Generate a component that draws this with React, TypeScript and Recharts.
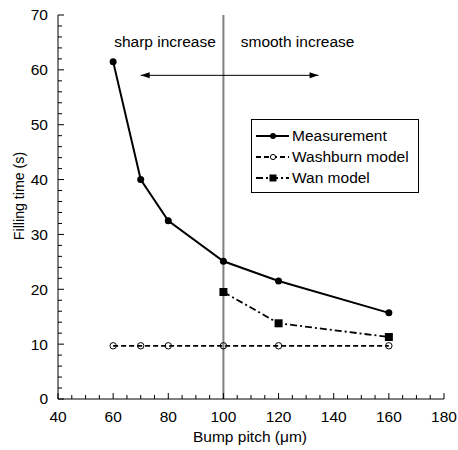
import React from 'react';
import {
  LineChart,
  Line,
  XAxis,
  YAxis,
  ReferenceLine,
  ReferenceDot,
  Legend,
} from 'recharts';

// Bump pitch (um) vs filling time (s)
const measurementPitch = [60, 70, 80, 100, 120, 160];
const measurementTime = [61.5, 40, 32.5, 25.1, 21.5, 15.7];
const washburnPitch = [60, 70, 80, 100, 120, 160];
const washburnTime = [9.7, 9.7, 9.7, 9.7, 9.7, 9.7];
const wanPitch = [100, 120, 160];
const wanTime = [19.5, 13.8, 11.3];

const xMajor = [40, 60, 80, 100, 120, 140, 160, 180];
const yMajor = [0, 10, 20, 30, 40, 50, 60, 70];
const xTicks = Array.from({ length: 29 }, (_, i) => 40 + i * 5);
const yTicks = Array.from({ length: 36 }, (_, i) => i * 2);

const annotations = [
  { x: 78.8, y: 65.1, text: 'sharp increase' },
  { x: 126.9, y: 65.1, text: 'smooth increase' },
];
const arrowFrom = { x: 70, y: 59 };
const arrowTo = { x: 134.5, y: 59 };
const dividerPitch = 100;

const FONT = '"Liberation Sans", Arial, sans-serif';

const toPoints = (xs: number[], ys: number[]) => xs.map((x, i) => ({ x, y: ys[i] }));

const isMajorX = (v: number) => xMajor.includes(v);
const isMajorY = (v: number) => yMajor.includes(v);

const BottomTick = (props: any) => {
  const { x, y, payload } = props;
  const major = isMajorX(payload.value);
  return (
    <g>
      <line x1={x} x2={x} y1={y} y2={y - (major ? 6 : 4)} stroke="#000" />
      {major && (
        <text x={x} y={y + 23} textAnchor="middle" fontSize={15.5} fontFamily={FONT} fill="#000">
          {payload.value}
        </text>
      )}
    </g>
  );
};

const TopTick = (props: any) => {
  const { x, y, payload } = props;
  const major = isMajorX(payload.value);
  return <line x1={x} x2={x} y1={y} y2={y + (major ? 6 : 4)} stroke="#000" />;
};

const LeftTick = (props: any) => {
  const { x, y, payload } = props;
  const major = isMajorY(payload.value);
  return (
    <g>
      <line x1={x} x2={x + (major ? 6 : 4)} y1={y} y2={y} stroke="#000" />
      {major && (
        <text x={x - 10} y={y} dy="0.35em" textAnchor="end" fontSize={15.5} fontFamily={FONT} fill="#000">
          {payload.value}
        </text>
      )}
    </g>
  );
};

const RightTick = (props: any) => {
  const { x, y, payload } = props;
  const major = isMajorY(payload.value);
  return <line x1={x} x2={x - (major ? 6 : 4)} y1={y} y2={y} stroke="#000" />;
};

const SolidDot = (p: any) => <circle cx={p.cx} cy={p.cy} r={3.5} fill="#000" stroke="none" />;
const OpenDot = (p: any) => <circle cx={p.cx} cy={p.cy} r={3.2} fill="none" stroke="#000" strokeWidth={1} />;
const SquareDot = (p: any) => <rect x={p.cx - 4} y={p.cy - 4} width={8} height={8} fill="#000" />;

const series = [
  { name: 'Measurement', dash: undefined, width: 2, marker: 'circle' },
  { name: 'Washburn model', dash: '5 3', width: 1.8, marker: 'open' },
  { name: 'Wan model', dash: '7 3 2 3', width: 1.8, marker: 'square' },
];

const LegendBox = () => (
  <div
    style={{
      border: '1px solid #000',
      background: '#fff',
      width: 166,
      height: 72,
      boxSizing: 'content-box',
      fontFamily: FONT,
      fontSize: 15.5,
    }}
  >
    <svg width={166} height={72} style={{ display: 'block', overflow: 'visible' }}>
      {series.map((s, i) => {
        const cy = 16 + i * 21;
        return (
          <g key={s.name}>
            <line x1={4} x2={37} y1={cy} y2={cy} stroke="#000" strokeWidth={s.width} strokeDasharray={s.dash} />
            {s.marker === 'circle' && <circle cx={21} cy={cy} r={3} fill="#000" />}
            {s.marker === 'open' && <circle cx={21} cy={cy} r={2.6} fill="#fff" stroke="#000" />}
            {s.marker === 'square' && <rect x={17.5} y={cy - 3.5} width={7} height={7} fill="#000" />}
            <text x={40} y={cy} dy="0.35em" fill="#000">
              {s.name}
            </text>
          </g>
        );
      })}
    </svg>
  </div>
);

const ArrowShape = (p: any) => {
  const { x1, y1, x2, y2 } = p;
  const left = Math.min(x1, x2);
  const right = Math.max(x1, x2);
  return (
    <g>
      <line x1={left} y1={y1} x2={right} y2={y2} stroke="#000" strokeWidth={1} />
      <polygon points={`${left},${y1} ${left + 9},${y1 - 3} ${left + 9},${y1 + 3}`} fill="#000" />
      <polygon points={`${right},${y2} ${right - 9},${y2 - 3} ${right - 9},${y2 + 3}`} fill="#000" />
    </g>
  );
};

export default function App() {
  return (
    <div style={{ position: 'absolute', left: 0, top: 0, width: 458, height: 450, fontFamily: FONT }}>
      <LineChart width={458} height={450} margin={{ top: 15, right: 14, bottom: 0, left: 0 }}>
        <XAxis
          type="number"
          dataKey="x"
          domain={[40, 180]}
          ticks={xTicks}
          interval={0}
          tickSize={0}
          tickMargin={0}
          tickLine={false}
          tick={BottomTick}
          axisLine={{ stroke: '#000' }}
          height={51}
          allowDataOverflow
          label={{
            content: ({ viewBox }: any) => (
              <text
                x={viewBox.x + viewBox.width / 2 - 1}
                y={viewBox.y + 43}
                textAnchor="middle"
                fontSize={15.5}
                fontFamily={FONT}
                fill="#000"
              >
                Bump pitch (μm)
              </text>
            ),
          }}
        />
        <XAxis
          xAxisId="top"
          orientation="top"
          type="number"
          dataKey="x"
          domain={[40, 180]}
          ticks={xTicks}
          interval={0}
          tickSize={0}
          tickMargin={0}
          tickLine={false}
          tick={TopTick}
          axisLine={{ stroke: '#000' }}
          height={0}
          allowDataOverflow
        />
        <YAxis
          type="number"
          domain={[0, 70]}
          ticks={yTicks}
          interval={0}
          tickSize={0}
          tickMargin={0}
          tickLine={false}
          tick={LeftTick}
          axisLine={{ stroke: '#000' }}
          width={58}
          allowDataOverflow
          label={{
            content: ({ viewBox }: any) => {
              const cx = viewBox.x + 19;
              const cy = viewBox.y + viewBox.height / 2 - 11;
              return (
                <text
                  x={cx}
                  y={cy}
                  transform={`rotate(-90 ${cx} ${cy})`}
                  textAnchor="middle"
                  dy="0.35em"
                  fontSize={14.2}
                  fontFamily={FONT}
                  fill="#000"
                >
                  Filling time (s)
                </text>
              );
            },
          }}
        />
        <YAxis
          yAxisId="right"
          orientation="right"
          type="number"
          domain={[0, 70]}
          ticks={yTicks}
          interval={0}
          tickSize={0}
          tickMargin={0}
          tickLine={false}
          tick={RightTick}
          axisLine={{ stroke: '#000' }}
          width={0}
          allowDataOverflow
        />
        <ReferenceLine x={dividerPitch} stroke="#808080" strokeWidth={2} />
        <ReferenceLine
          segment={[arrowFrom, arrowTo]}
          stroke="#000"
          shape={ArrowShape}
        />
        {annotations.map((a) => (
          <ReferenceDot
            key={a.text}
            x={a.x}
            y={a.y}
            r={0}
            shape={(p: any) => (
              <text
                x={p.cx}
                y={p.cy}
                dy="0.35em"
                textAnchor="middle"
                fontSize={15.5}
                fontFamily={FONT}
                fill="#000"
              >
                {a.text}
              </text>
            )}
          />
        ))}
        <Line
          data={toPoints(washburnPitch, washburnTime)}
          dataKey="y"
          name="Washburn model"
          stroke="#000"
          strokeWidth={1.8}
          strokeDasharray="5 3"
          dot={OpenDot}
          activeDot={false}
          isAnimationActive={false}
        />
        <Line
          data={toPoints(wanPitch, wanTime)}
          dataKey="y"
          name="Wan model"
          stroke="#000"
          strokeWidth={1.8}
          strokeDasharray="7 3 2 3"
          dot={SquareDot}
          activeDot={false}
          isAnimationActive={false}
        />
        <Line
          data={toPoints(measurementPitch, measurementTime)}
          dataKey="y"
          name="Measurement"
          stroke="#000"
          strokeWidth={2}
          dot={SolidDot}
          activeDot={false}
          isAnimationActive={false}
        />
        <Legend
          layout="horizontal"
          align="center"
          verticalAlign="middle"
          wrapperStyle={{ left: 251, top: 119, width: 168, height: 74 }}
          content={() => <LegendBox />}
        />
      </LineChart>
    </div>
  );
}
